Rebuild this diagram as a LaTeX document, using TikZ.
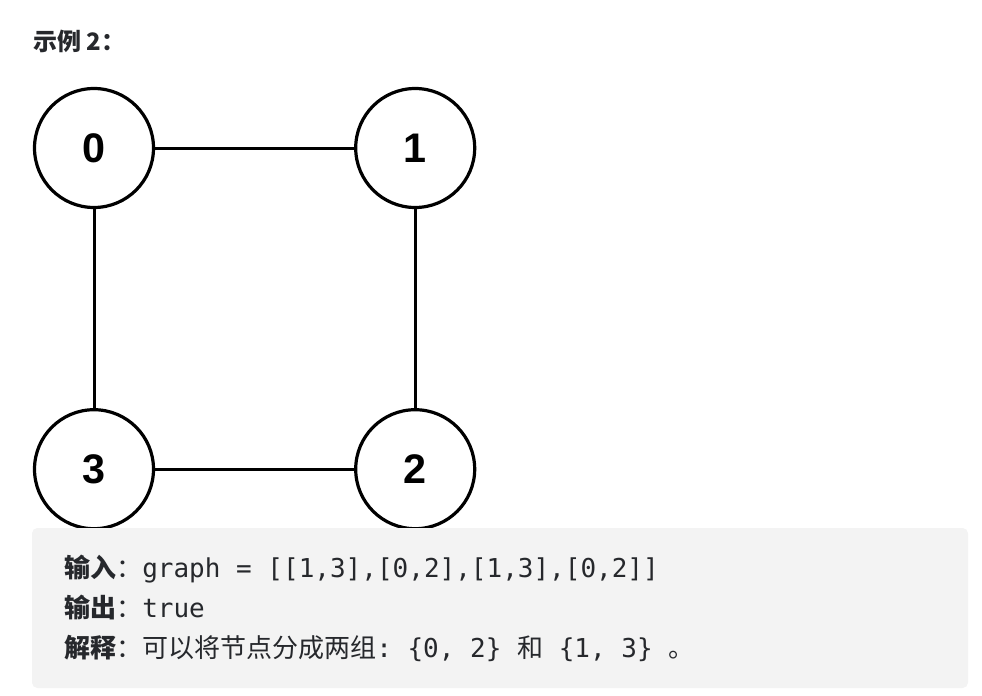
\documentclass[tikz,border=0pt]{standalone}
\usepackage{fontspec}
\setmainfont{Liberation Sans}
\setmonofont{DejaVu Sans Mono}
\newfontfamily\cjk{Noto Sans CJK SC}
\usetikzlibrary{positioning}

\definecolor{textdark}{RGB}{38,40,44}
\definecolor{codebg}{RGB}{243,243,243}

\begin{document}
\begin{tikzpicture}[
        x=0.75pt, y=-0.75pt,
        node distance=149.25pt and 149.25pt,
        vertex/.style={circle, draw, line width=2.4pt, minimum size=89.25pt, inner sep=0pt, font=\fontsize{31}{31}\selectfont\bfseries},
        edge/.style={line width=2.25pt},
        line/.style={anchor=base west, inner sep=0pt, text=textdark, font=\fontsize{19.5}{19.5}\selectfont}
    ]
    \useasboundingbox (0,0) rectangle (982,696);

    % Title
    \node [anchor=base west, inner sep=0pt, text=textdark, font=\fontsize{18}{18}\selectfont\bfseries] (title) at (33,50) {\cjk 示例 2：};

    % Graph
    \node [vertex] (n0) at (94,148) {0};
    \node [vertex, right=of n0] (n1) {1};
    \node [vertex, below=of n1] (n2) {2};
    \node [vertex, below=of n0] (n3) {3};

    % Edges
    \draw [edge] (n0) -- (n1);
    \draw [edge] (n1) -- (n2);
    \draw [edge] (n2) -- (n3);
    \draw [edge] (n3) -- (n0);

    % Code block
    \fill [codebg, rounded corners=4pt] (32,528) rectangle (968,688);
    \node [line] (input) at (64,577) {{\cjk\bfseries 输入}{\cjk ：}\ttfamily graph = [[1,3],[0,2],[1,3],[0,2]]};
    \node [line] (output) at (64,617) {{\cjk\bfseries 输出}{\cjk ：}\ttfamily true};
    \node [line] (explain) at (64,657) {{\cjk\bfseries 解释}{\cjk ：可以将节点分成两组}\ttfamily : \{0, 2\} {\cjk 和} \{1, 3\} {\cjk 。}};
\end{tikzpicture}
\end{document}
